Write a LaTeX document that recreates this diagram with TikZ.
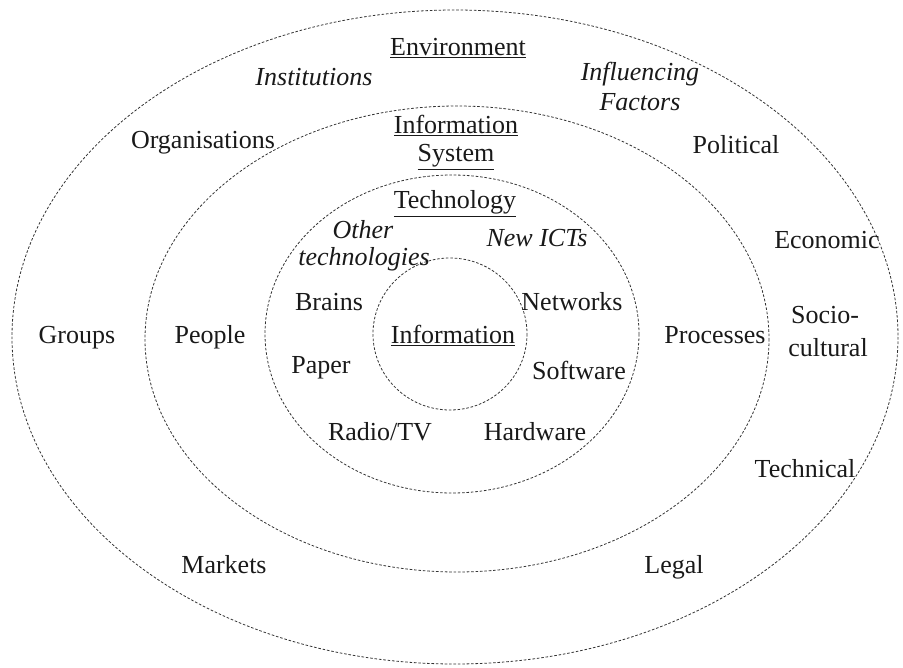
\documentclass[tikz,border=0pt]{standalone}
\usepackage{fontspec}
\setmainfont{Liberation Serif}
\begin{document}
\begin{tikzpicture}[x=1pt,y=-1pt,
  ring/.style={draw=black!80, line width=0.8pt, dash pattern=on 2.6pt off 1.8pt},
  lbl/.style={anchor=base, inner sep=0pt, font=\fontsize{26}{30}\selectfont, text=black!90},
  ilbl/.style={lbl, font=\fontsize{26}{30}\selectfont\itshape},
]
\useasboundingbox (0,0) rectangle (903,668);
% rings
\draw[ring] (455,337) ellipse [x radius=443, y radius=327];
\draw[ring] (457,339) ellipse [x radius=312, y radius=233];
\draw[ring] (452,334) ellipse [x radius=187, y radius=159];
\draw[ring] (450,334) ellipse [x radius=77, y radius=76];
% environment ring
\node[lbl] (env) at (458,56) {\underline{Environment}};
\node[ilbl] (inst) at (314,86) {Institutions};
\node[ilbl] (infl1) at (640,81) {Influencing};
\node[ilbl] (infl2) at (640,111) {Factors};
\node[lbl] (org) at (203,149) {Organisations};
\node[lbl] (pol) at (736,154) {Political};
\node[lbl] (eco) at (827,249) {Economic};
\node[lbl] (grp) at (77,344) {Groups};
\node[lbl] (soc1) at (825,324) {Socio-};
\node[lbl] (soc2) at (828,357) {cultural};
\node[lbl] (tec) at (805,478) {Technical};
\node[lbl] (mkt) at (224,573) {Markets};
\node[lbl] (leg) at (674,573) {Legal};
% information system ring
\node[lbl] (is1) at (456,134) {\underline{Information}};
\node[lbl] (is2) at (456,162) {\underline{System}};
\node[lbl] (ppl) at (210,344) {People};
\node[lbl] (proc) at (715,344) {Processes};
% technology ring
\node[lbl] (tech) at (455,209) {\underline{Technology}};
\node[ilbl] (oth1) at (363,239) {Other};
\node[ilbl] (oth2) at (364,266) {technologies};
\node[ilbl] (ict) at (537,247) {New ICTs};
\node[lbl] (brn) at (329,311) {Brains};
\node[lbl] (net) at (572,311) {Networks};
\node[lbl] (pap) at (321,374) {Paper};
\node[lbl] (sw) at (579,380) {Software};
\node[lbl] (rad) at (380,440) {Radio/TV};
\node[lbl] (hw) at (535,440) {Hardware};
% core
\node[lbl] (inf) at (453,344) {\underline{Information}};
\end{tikzpicture}
\end{document}
